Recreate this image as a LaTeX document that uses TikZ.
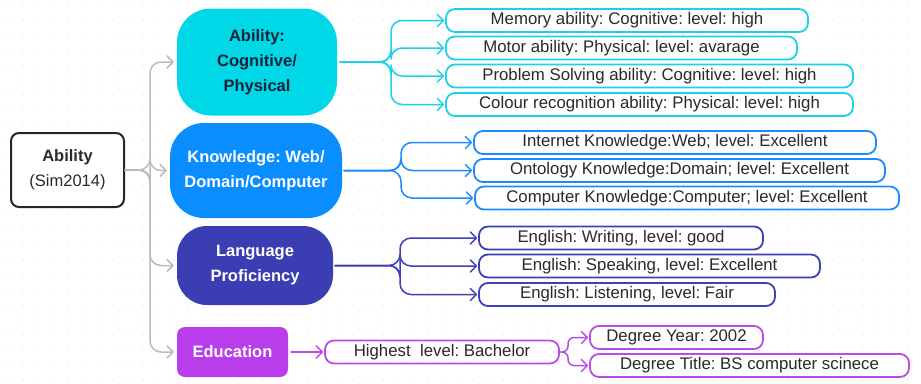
\documentclass[tikz,border=0pt]{standalone}
\usepackage{fontspec}
\setmainfont{Liberation Sans}
\usetikzlibrary{arrows.meta}
\definecolor{cyanM}{HTML}{00D8E8}
\definecolor{cyanL}{HTML}{1AD2EA}
\definecolor{blueM}{HTML}{0A8EFF}
\definecolor{blueL}{HTML}{1A8CFF}
\definecolor{indM}{HTML}{3B3DB2}
\definecolor{indL}{HTML}{3E40B6}
\definecolor{purM}{HTML}{B73EEA}
\definecolor{purL}{HTML}{B94CE9}
\definecolor{grayC}{HTML}{BBBBBB}
\definecolor{dotC}{HTML}{D4D4D4}
\definecolor{txtD}{HTML}{2A2A2A}
\definecolor{navy}{HTML}{14233A}
\frenchspacing
\tikzset{
  mainbox/.style={rectangle, inner sep=0pt, align=center, font=\bfseries\fontsize{16.5}{25}\selectfont},
  leaf/.style={rectangle, draw, line width=1.8pt, rounded corners=9pt, fill=white, inner sep=0pt,
    minimum height=23pt, text=txtD, font=\fontsize{16.8}{18}\selectfont},
  conn/.style={line width=1.5pt, rounded corners=11pt, line cap=round, line join=round,
    -{Straight Barb[length=6pt,width=12pt,line cap=round,line join=round]}},
}
\begin{document}
\begin{tikzpicture}[x=1pt,y=-1pt]
\useasboundingbox (0,0) rectangle (921,383);
\fill[white] (0,0) rectangle (921,383);
\foreach \i in {0,...,61} {\foreach \j in {0,...,25} {\fill[dotC] (\i*15+8,\j*15+5) circle (0.7pt);}}

% root
\node[rectangle, draw=black!85, line width=2pt, rounded corners=8pt, fill=white, inner sep=0pt,
  minimum width=113pt, minimum height=74pt, align=center, text=txtD,
  font=\fontsize{16.5}{25}\selectfont] (root) at (67.5,170) {\textbf{Ability}\\(Sim2014)};

% main nodes
\node[mainbox, fill=cyanM, text=navy, rounded corners=34pt, minimum width=160pt, minimum height=107pt] (A) at (257,62) {Ability:\\Cognitive/\\Physical};
\node[mainbox, fill=blueM, text=white, rounded corners=34pt, minimum width=172pt, minimum height=95pt] (K) at (256,170.5) {Knowledge: Web/\\Domain/Computer};
\node[mainbox, fill=indM, text=white, rounded corners=30pt, minimum width=156pt, minimum height=79pt] (L) at (255,265.5) {Language\\Proficiency};
\node[mainbox, fill=purM, text=white, rounded corners=8pt, minimum width=111pt, minimum height=50pt] (E) at (232.5,352) {Education};

% leaves
\node[leaf, draw=cyanL, minimum width=362pt] (m1) at (627,20.5) {Memory ability: Cognitive: level: high};
\node[leaf, draw=cyanL, minimum width=351pt] (m2) at (621.5,48) {Motor ability: Physical: level: avarage};
\node[leaf, draw=cyanL, minimum width=407pt] (m3) at (649.5,76) {Problem Solving ability: Cognitive: level: high};
\node[leaf, draw=cyanL, minimum width=407pt] (m4) at (649.5,104.5) {Colour recognition ability: Physical: level: high};

\node[leaf, draw=blueL, minimum width=402pt] (k1) at (675,142.5) {Internet Knowledge:Web; level: Excellent};
\node[leaf, draw=blueL, minimum width=411pt] (k2) at (679.5,170.5) {Ontology Knowledge:Domain; level: Excellent};
\node[leaf, draw=blueL, minimum width=424pt] (k3) at (687,198) {Computer Knowledge:Computer; level: Excellent};

\node[leaf, draw=indL, minimum width=284pt] (l1) at (621,238) {English: Writing, level: good};
\node[leaf, draw=indL, minimum width=341pt] (l2) at (649.5,266) {English: Speaking, level: Excellent};
\node[leaf, draw=indL, minimum width=296pt] (l3) at (627,294.5) {English: Listening, level: Fair};

\node[leaf, draw=purL, minimum width=234pt] (h) at (442,352) {Highest\ \ level: Bachelor};
\node[leaf, draw=purL, minimum width=173pt] (d1) at (676.5,337.5) {Degree Year: 2002};
\node[leaf, draw=purL, minimum width=319pt] (d2) at (749.5,365.5) {Degree Title: BS computer scinece};

% fork coordinates
\coordinate (fR) at (150,170);
\coordinate (fA) at (391,62);
\coordinate (fK) at (401,170.5);
\coordinate (fL) at (400,265.5);
\coordinate (fH) at (568,352);

% gray
\foreach \t in {A,K,L,E} {\draw[conn, grayC, shorten >=3pt] (root.east) -- (fR) |- (\t.west);}
% cyan
\foreach \t in {m1,m2,m3,m4} {\draw[conn, cyanL, shorten <=3pt, shorten >=1pt] (A.east) -- (fA) |- (\t.west);}
% blue
\foreach \t in {k1,k2,k3} {\draw[conn, blueL, shorten <=2pt, shorten >=1pt] (K.east) -- (fK) |- (\t.west);}
% indigo
\foreach \t in {l1,l2,l3} {\draw[conn, indL, shorten <=2pt, shorten >=1pt] (L.east) -- (fL) |- (\t.west);}
% purple
\draw[conn, purL, shorten <=3pt, shorten >=1pt] (E.east) -- (h.west);
\foreach \t in {d1,d2} {\draw[conn, purL, rounded corners=6pt, shorten <=1pt, shorten >=1pt] (h.east) -- (fH) |- (\t.west);}
\end{tikzpicture}
\end{document}
